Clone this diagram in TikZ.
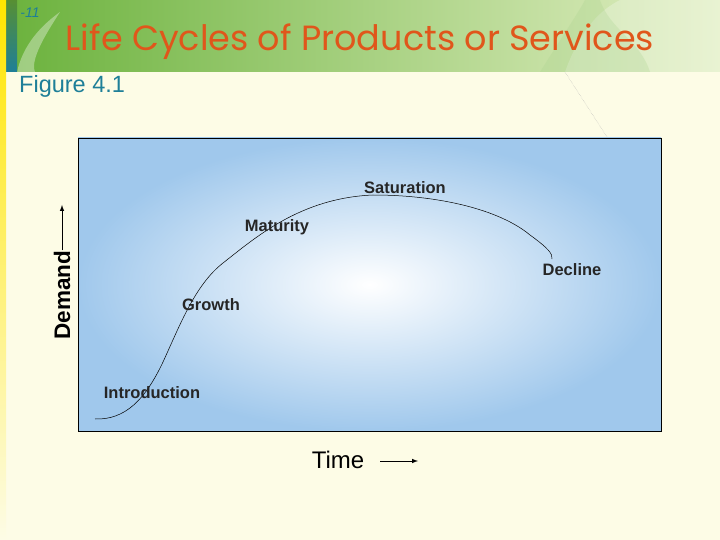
\documentclass[tikz,border=0pt]{standalone}
\usepackage{fontspec}
\setmainfont{Liberation Sans}
\newfontfamily\titlefont{Poppins}
\begin{document}
\begin{tikzpicture}[x=1pt,y=-1pt,
  lbl/.style={font=\bfseries\fontsize{16.5}{18}\selectfont, text=black!85, inner sep=0pt},
  axl/.style={font=\fontsize{24}{26}\selectfont, text=black, inner sep=0pt}]
\definecolor{cream}{HTML}{FDFCE6}
\definecolor{gdark}{HTML}{6DB33F}
\definecolor{glight}{HTML}{E2EFC4}
\definecolor{teal}{HTML}{1E7F98}
\definecolor{orangeT}{HTML}{E0561B}
\definecolor{boxblue}{HTML}{A0C8EC}
\useasboundingbox (0,0) rectangle (720,540);
\fill[cream] (0,0) rectangle (720,540);
\shade[left color=gdark, right color=glight] (17,0) rectangle (720,72);
\fill[white,opacity=0.25] (565,72) .. controls (580,30) and (600,10) .. (620,0) -- (720,0) -- (720,72) -- cycle;
\fill[gdark!60,opacity=0.25] (540,72) .. controls (560,40) and (580,10) .. (585,0) -- (600,0) .. controls (610,30) and (640,40) .. (650,72) -- cycle;
\fill[white,opacity=0.35] (17,72) .. controls (22,50) and (35,30) .. (60,12) .. controls (45,35) and (30,60) .. (35,72) -- cycle;
\shade[top color=gdark!80!black, bottom color=teal] (6,0) rectangle (17,72);
\shade[top color=yellow!80!orange, bottom color=cream] (0,0) rectangle (6,540);
\draw[gray!60, densely dotted] (565,72) -- (607,137);
\node[font=\itshape\fontsize{14}{16}\selectfont, text=teal, inner sep=0pt] (pg) at (30,13) {-11};
\node[font=\titlefont\fontsize{35}{40}\selectfont, text=orangeT, inner sep=0pt] (title) at (360,42) {Life Cycles of Products or Services};
\node[font=\fontsize{23.5}{27}\selectfont, text=teal, anchor=west, inner sep=0pt] (fig) at (19,86) {Figure 4.1};
% chart box
\node[draw=black, line width=0.8pt, minimum width=583pt, minimum height=293pt, inner sep=0pt,
  inner color=white, outer color=boxblue] (box) at (369.5,284.5) {};
\draw[black, line width=0.5pt] (95,419) .. controls (125,420) and (145,400) .. (163,362)
  .. controls (180,325) and (195,285) .. (223,263)
  .. controls (255,238) and (300,198) .. (373,195)
  .. controls (440,195) and (500,210) .. (530,235)
  .. controls (548,248) and (553,254) .. (552,259);
\node[lbl] (sat) at (405,188) {Saturation};
\node[lbl] (mat) at (277,227) {Maturity};
\node[lbl] (dec) at (572,270) {Decline};
\node[lbl] (gro) at (211,305) {Growth};
\node[lbl] (intro) at (152,393) {Introduction};
\node[axl, font=\bfseries\fontsize{22.5}{24}\selectfont, rotate=90] (dem) at (62,295) {Demand};
\coordinate (demtip) at (62,205);
\draw[-latex, line width=1pt] (dem.east) -- (demtip);
\node[axl] (time) at (338,460) {Time};
\coordinate (timetip) at (418,461);
\draw[-latex, line width=1pt] (380,461) -- (timetip);
\end{tikzpicture}
\end{document}
